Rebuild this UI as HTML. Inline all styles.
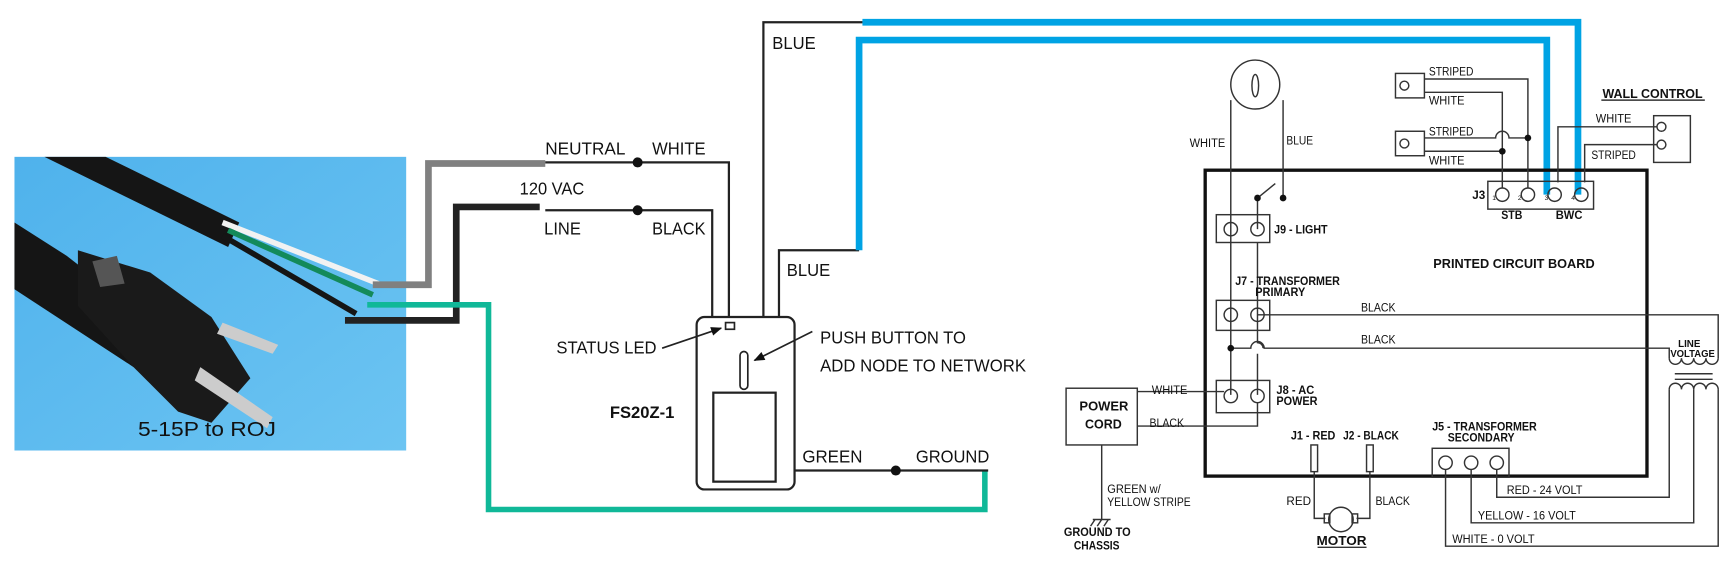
<!DOCTYPE html>
<html><head><meta charset="utf-8"><style>
html,body{margin:0;padding:0;background:#fff;width:1736px;height:584px;overflow:hidden}
svg{display:block}
text{font-family:"Liberation Sans",sans-serif;fill:#111}
.s{font-size:10.5px}
.b{font-weight:bold}
.m{font-size:16px}
</style></head><body>
<svg width="1736" height="584" viewBox="0 0 1560 525" preserveAspectRatio="none" xmlns="http://www.w3.org/2000/svg">
<defs>
<linearGradient id="bg" x1="0" y1="0" x2="1" y2="1"><stop offset="0" stop-color="#4fb2ec"/><stop offset="1" stop-color="#6cc4f2"/></linearGradient>
<marker id="ar" markerWidth="10" markerHeight="8" refX="9" refY="4" orient="auto" markerUnits="userSpaceOnUse"><path d="M0,0 L10,4 L0,8 z" fill="#111"/></marker>
</defs>
<!-- photo -->
<rect x="13" y="141" width="352" height="264" fill="url(#bg)"/>
<path d="M40,141 L95,141 L215,200 L205,222 Z" fill="#151515"/>
<path d="M13,200 L60,230 L150,300 L120,330 L13,260 Z" fill="#151515"/>
<path d="M70,225 L135,245 L190,285 L225,340 L190,380 L160,370 L120,330 L70,275 Z" fill="#1a1a1a"/>
<path d="M83,235 L105,230 L112,255 L90,258 Z" fill="#555"/>
<path d="M200,200 L340,255" stroke="#f2f2f2" stroke-width="5"/>
<path d="M205,207 L335,265" stroke="#138a5a" stroke-width="5"/>
<path d="M200,212 L320,282" stroke="#151515" stroke-width="5"/>
<path d="M200,290 L250,310 L245,318 L195,300 Z" fill="#ccc"/>
<path d="M180,330 L245,375 L240,385 L175,342 Z" fill="#ccc"/>
<text x="124" y="392" style="font-size:18px" textLength="124" lengthAdjust="spacingAndGlyphs">5-15P to ROJ</text>
<!-- plug wires -->
<path d="M335,256 H385 V147 H490" stroke="#808080" stroke-width="6" fill="none"/>
<path d="M310,288 H410 V186 H485" stroke="#222" stroke-width="6" fill="none"/>
<path d="M330,274 H439 V458 H885 V423" stroke="#10b898" stroke-width="5" fill="none"/>
<!-- thin wires -->
<g stroke="#222" stroke-width="2" fill="none">
<path d="M490,146 H655 V285"/>
<path d="M490,189 H640 V285"/>
<path d="M686,285 V20 H775"/>
<path d="M700,285 V225 H772"/>
<path d="M714,423 H888"/>
</g>
<path d="M775,20 H1418 V175" stroke="#00a3e4" stroke-width="6" fill="none"/>
<path d="M772,225 V36 H1390 V175" stroke="#00a3e4" stroke-width="6" fill="none"/>
<circle cx="573" cy="146" r="4.5" fill="#111"/>
<circle cx="573" cy="189" r="4.5" fill="#111"/>
<circle cx="805" cy="423" r="4.5" fill="#111"/>
<!-- device -->
<rect x="626" y="285" width="88" height="155" rx="7" fill="#fff" stroke="#222" stroke-width="2"/>
<rect x="652" y="290" width="8" height="6" fill="#fff" stroke="#222" stroke-width="1.5"/>
<rect x="665" y="316" width="7" height="34" rx="3.5" fill="#fff" stroke="#222" stroke-width="1.5"/>
<rect x="641" y="353" width="56" height="80" fill="#fff" stroke="#222" stroke-width="2"/>
<line x1="595" y1="313" x2="648" y2="295" stroke="#222" stroke-width="1.5" marker-end="url(#ar)"/>
<line x1="730" y1="298" x2="678" y2="324" stroke="#222" stroke-width="1.5" marker-end="url(#ar)"/>
<g class="m">
<text x="490" y="139" textLength="72" lengthAdjust="spacingAndGlyphs">NEUTRAL</text><text x="586" y="139" textLength="48" lengthAdjust="spacingAndGlyphs">WHITE</text>
<text x="467" y="175" textLength="58" lengthAdjust="spacingAndGlyphs">120 VAC</text>
<text x="489" y="211" textLength="33" lengthAdjust="spacingAndGlyphs">LINE</text><text x="586" y="211" textLength="48" lengthAdjust="spacingAndGlyphs">BLACK</text>
<text x="694" y="44" textLength="39" lengthAdjust="spacingAndGlyphs">BLUE</text><text x="707" y="248" textLength="39" lengthAdjust="spacingAndGlyphs">BLUE</text>
<text x="500" y="318" textLength="90" lengthAdjust="spacingAndGlyphs">STATUS LED</text>
<text x="737" y="309" textLength="131" lengthAdjust="spacingAndGlyphs">PUSH BUTTON TO</text>
<text x="737" y="334" textLength="185" lengthAdjust="spacingAndGlyphs">ADD NODE TO NETWORK</text>
<text x="721" y="416" textLength="54" lengthAdjust="spacingAndGlyphs">GREEN</text><text x="823" y="416" textLength="66" lengthAdjust="spacingAndGlyphs">GROUND</text>
</g>
<text x="548" y="376" class="b" style="font-size:15px" textLength="58" lengthAdjust="spacingAndGlyphs">FS20Z-1</text>
<!-- PCB side -->
<rect x="1083" y="153" width="397" height="275" fill="none" stroke="#111" stroke-width="3"/>
<g stroke="#333" stroke-width="1.3" fill="none">
<circle cx="1128" cy="76" r="22"/>
<ellipse cx="1128" cy="77" rx="3" ry="10"/>
<path d="M1106,90 V355"/>
<path d="M1153,90 V177"/>
<path d="M1130,178 V206"/>
<path d="M1130,178 L1146,165"/>
<path d="M1130,218 V308 A5,5 0 0 1 1135,313 M1130,318 V355"/>
<path d="M1106,313 H1124 A6,6 0 0 1 1136,313 H1500 V322"/>
<path d="M1130,283 H1544 V322"/>
<rect x="1093" y="193" width="48" height="25"/>
<rect x="1093" y="270" width="48" height="27"/>
<rect x="1093" y="342" width="48" height="29"/>
<circle cx="1106" cy="206" r="6"/><circle cx="1130" cy="206" r="6"/>
<circle cx="1106" cy="283" r="6"/><circle cx="1130" cy="283" r="6"/>
<circle cx="1106" cy="356" r="6"/><circle cx="1130" cy="356" r="6"/>
<rect x="958" y="349" width="64" height="51"/>
<path d="M1022,352 H1100"/>
<path d="M1022,383 H1130 V362"/>
<path d="M990,400 V467"/>
<path d="M982,467 H998 M984,467 L980,473 M990,467 L986,473 M996,467 L992,473"/>
<rect x="1178" y="400" width="6" height="24"/>
<rect x="1228" y="400" width="6" height="24"/>
<path d="M1181,424 V466 H1191 M1231,424 V466 H1219"/>
<circle cx="1205" cy="467" r="11"/>
<rect x="1190" y="462" width="5" height="8"/><rect x="1215" y="462" width="5" height="8"/>
<path d="M1184,492 H1228"/>
<rect x="1287" y="403" width="69" height="26"/>
<circle cx="1299" cy="416" r="6"/><circle cx="1322" cy="416" r="6"/><circle cx="1345" cy="416" r="6"/>
<path d="M1345,422 V447 H1500 V350"/>
<path d="M1322,422 V470 H1522 V350"/>
<path d="M1299,422 V491 H1544 V350"/>
<path d="M1500,322 a5.5,5.5 0 0 0 11,0 a5.5,5.5 0 0 0 11,0 a5.5,5.5 0 0 0 11,0 a5.5,5.5 0 0 0 11,0"/>
<path d="M1500,350 a5.5,5.5 0 0 1 11,0 a5.5,5.5 0 0 1 11,0 a5.5,5.5 0 0 1 11,0 a5.5,5.5 0 0 1 11,0"/>
<path d="M1505,336 H1539 M1505,341 H1539"/>
<rect x="1337" y="163" width="95" height="25"/>
<circle cx="1350" cy="175" r="6"/><circle cx="1373" cy="175" r="6"/><circle cx="1397" cy="175" r="6"/><circle cx="1421" cy="175" r="6"/>
<rect x="1254" y="66" width="26" height="22"/><circle cx="1262" cy="77" r="4"/>
<rect x="1254" y="118" width="26" height="22"/><circle cx="1262" cy="129" r="4"/>
<path d="M1280,71 H1373 V169"/>
<path d="M1280,83 H1350 V169"/>
<path d="M1280,124 H1344 A6,6 0 0 1 1356,124 H1373"/>
<path d="M1280,136 H1350"/>
<rect x="1486" y="104" width="33" height="42"/><circle cx="1493" cy="114" r="4"/><circle cx="1493" cy="130" r="4"/>
<path d="M1400,164 V114 H1489 M1424,164 V130 H1489"/>
<path d="M1439,90 H1532"/>
</g>
<g fill="#111">
<circle cx="1130" cy="178" r="3"/><circle cx="1153" cy="178" r="3"/>
<circle cx="1106" cy="313" r="3"/>
<circle cx="1373" cy="124" r="3"/><circle cx="1350" cy="136" r="3"/>
</g>
<g class="s">
<text x="1069" y="132" textLength="32" lengthAdjust="spacingAndGlyphs">WHITE</text><text x="1156" y="130" textLength="24" lengthAdjust="spacingAndGlyphs">BLUE</text>
<text x="1284" y="68" textLength="40" lengthAdjust="spacingAndGlyphs">STRIPED</text><text x="1284" y="94" textLength="32" lengthAdjust="spacingAndGlyphs">WHITE</text>
<text x="1284" y="122" textLength="40" lengthAdjust="spacingAndGlyphs">STRIPED</text><text x="1284" y="148" textLength="32" lengthAdjust="spacingAndGlyphs">WHITE</text>
<text x="1434" y="110" textLength="32" lengthAdjust="spacingAndGlyphs">WHITE</text><text x="1430" y="143" textLength="40" lengthAdjust="spacingAndGlyphs">STRIPED</text>
<text x="1223" y="280" textLength="31" lengthAdjust="spacingAndGlyphs">BLACK</text><text x="1223" y="309" textLength="31" lengthAdjust="spacingAndGlyphs">BLACK</text>
<text x="1035" y="354" textLength="32" lengthAdjust="spacingAndGlyphs">WHITE</text><text x="1033" y="384" textLength="31" lengthAdjust="spacingAndGlyphs">BLACK</text>
<text x="995" y="443" textLength="48" lengthAdjust="spacingAndGlyphs">GREEN w/</text><text x="995" y="455" textLength="75" lengthAdjust="spacingAndGlyphs">YELLOW STRIPE</text>
<text x="1156" y="454">RED</text><text x="1236" y="454" textLength="31" lengthAdjust="spacingAndGlyphs">BLACK</text>
<text x="1354" y="444" textLength="68" lengthAdjust="spacingAndGlyphs">RED - 24 VOLT</text>
<text x="1328" y="467" textLength="88" lengthAdjust="spacingAndGlyphs">YELLOW - 16 VOLT</text>
<text x="1305" y="488" textLength="74" lengthAdjust="spacingAndGlyphs">WHITE - 0 VOLT</text>
<text x="1341" y="180" style="font-size:6px">1</text><text x="1364" y="180" style="font-size:6px">2</text><text x="1388" y="180" style="font-size:6px">3</text><text x="1412" y="180" style="font-size:6px">4</text>
</g>
<g class="s b">
<text x="1440" y="88" style="font-size:12px" textLength="90" lengthAdjust="spacingAndGlyphs">WALL CONTROL</text>
<text x="1323" y="179">J3</text>
<text x="1349" y="197" textLength="19" lengthAdjust="spacingAndGlyphs">STB</text><text x="1398" y="197" textLength="24" lengthAdjust="spacingAndGlyphs">BWC</text>
<text x="1145" y="210" textLength="48" lengthAdjust="spacingAndGlyphs">J9 - LIGHT</text>
<text x="1288" y="241" style="font-size:12px" textLength="145" lengthAdjust="spacingAndGlyphs">PRINTED CIRCUIT BOARD</text>
<text x="1110" y="256" textLength="94" lengthAdjust="spacingAndGlyphs">J7 - TRANSFORMER</text><text x="1128" y="266" textLength="45" lengthAdjust="spacingAndGlyphs">PRIMARY</text>
<text x="1147" y="354" textLength="34" lengthAdjust="spacingAndGlyphs">J8 - AC</text><text x="1147" y="364" textLength="37" lengthAdjust="spacingAndGlyphs">POWER</text>
<text x="970" y="369" style="font-size:12px" textLength="44" lengthAdjust="spacingAndGlyphs">POWER</text><text x="975" y="385" style="font-size:12px" textLength="33" lengthAdjust="spacingAndGlyphs">CORD</text>
<text x="1160" y="395" textLength="40" lengthAdjust="spacingAndGlyphs">J1 - RED</text><text x="1207" y="395" textLength="50" lengthAdjust="spacingAndGlyphs">J2 - BLACK</text>
<text x="1287" y="387" textLength="94" lengthAdjust="spacingAndGlyphs">J5 - TRANSFORMER</text><text x="1301" y="397" textLength="60" lengthAdjust="spacingAndGlyphs">SECONDARY</text>
<text x="1508" y="312" style="font-size:9.5px" textLength="20" lengthAdjust="spacingAndGlyphs">LINE</text><text x="1501" y="321" style="font-size:9.5px" textLength="40" lengthAdjust="spacingAndGlyphs">VOLTAGE</text>
<text x="956" y="482" textLength="60" lengthAdjust="spacingAndGlyphs">GROUND TO</text><text x="965" y="494" textLength="41" lengthAdjust="spacingAndGlyphs">CHASSIS</text>
<text x="1183" y="490" style="font-size:12px" textLength="45" lengthAdjust="spacingAndGlyphs">MOTOR</text>
</g>
</svg>
</body></html>
